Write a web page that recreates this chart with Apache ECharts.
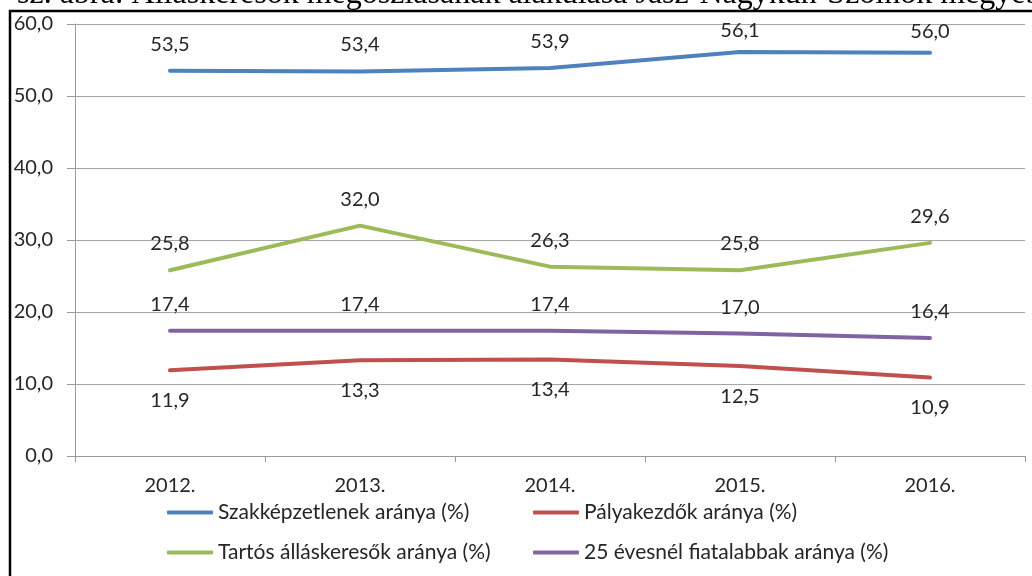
<!DOCTYPE html>
<html>
<head>
<meta charset="utf-8">
<style>
  html, body { margin: 0; padding: 0; background: #fff; }
  #chartLineContainer { width: 1032px; height: 576px; }
</style>
</head>
<body>
<div id="chartLineContainer"></div>
<script src="https://cdn.jsdelivr.net/npm/echarts@6/dist/echarts.min.js"></script>
<script>
// kategóriák (évek)
var years = ["2012.", "2013.", "2014.", "2015.", "2016."];
// sorozatok nevei
var seriesNames = [
  "Szakképzetlenek aránya (%)",
  "Pályakezdők aránya (%)",
  "Tartós álláskeresők aránya (%)",
  "25 évesnél fiatalabbak aránya (%)"
];
// értékek
var szakkepzetlen = [53.5, 53.4, 53.9, 56.1, 56.0];
var palyakezdo = [11.9, 13.3, 13.4, 12.5, 10.9];
var tartos = [25.8, 32.0, 26.3, 25.8, 29.6];
var fiatal = [17.4, 17.4, 17.4, 17.0, 16.4];
// y tengely
var yMin = 0;
var yMax = 60;
var yStep = 10;

var colors = ["#4F81BD", "#C0504D", "#9BBB59", "#8064A2"];
var font = "Lato";
var txt = "#262626";

// magyar tizedesvessző
function fmt(v) {
  return Number(v).toFixed(1).replace(".", ",");
}

function makeSeries(name, values, color, pos) {
  var data = values.map(function (v) {
    // a tetején lévő feliratokat Excel lejjebb tolja
    if (pos === "top" && v > 55) {
      return { value: v, label: { distance: 11 } };
    }
    return v;
  });
  return {
    name: name,
    type: "line",
    data: data,
    symbol: "circle",
    symbolSize: 1,
    lineStyle: { color: color, width: 4, cap: "round" },
    itemStyle: { color: color },
    emphasis: { disabled: true },
    label: {
      show: true,
      position: pos,
      distance: pos === "top" ? 16 : 20,
      color: txt,
      fontFamily: font,
      fontSize: 20,
      formatter: function (p) { return fmt(p.value); }
    },
    z: 3
  };
}

var chartLine = echarts.init(document.getElementById("chartLineContainer"));

function legendAt(idx, left, top) {
  return {
    data: [seriesNames[idx]],
    left: left,
    top: top,
    padding: 0,
    icon: "roundRect",
    itemWidth: 46,
    itemHeight: 4,
    textStyle: { color: txt, fontFamily: font, fontSize: 21 }
  };
}

var option = {
  animation: false,
  backgroundColor: "#fff",
  color: colors,
  grid: { left: 75, right: 7, top: 24, bottom: 120 },
  legend: [
    legendAt(0, 167, 502),
    legendAt(1, 533, 502),
    legendAt(2, 167, 542),
    legendAt(3, 533, 542)
  ],
  xAxis: {
    type: "category",
    data: years,
    boundaryGap: true,
    axisLine: { lineStyle: { color: "#9a9a9a", width: 1 } },
    axisTick: { show: true, length: 6, lineStyle: { color: "#9a9a9a" } },
    axisLabel: { color: txt, fontFamily: font, fontSize: 20, margin: 20 }
  },
  yAxis: {
    type: "value",
    min: yMin,
    max: yMax,
    interval: yStep,
    axisLine: { show: true, lineStyle: { color: "#9a9a9a" } },
    axisTick: { show: true, length: 8, lineStyle: { color: "#9a9a9a" } },
    splitLine: { lineStyle: { color: "#a6a6a6", width: 1 } },
    axisLabel: {
      color: txt,
      fontFamily: font,
      fontSize: 20,
      margin: 22,
      formatter: function (v) { return fmt(v); }
    }
  },
  series: [
    makeSeries(seriesNames[0], szakkepzetlen, colors[0], "top"),
    makeSeries(seriesNames[1], palyakezdo, colors[1], "bottom"),
    makeSeries(seriesNames[2], tartos, colors[2], "top"),
    makeSeries(seriesNames[3], fiatal, colors[3], "top")
  ],
  graphic: [
    // keret bal és felső széle
    {
      type: "polyline",
      shape: { points: [[10, 576], [10, 11], [1032, 11]] },
      style: { stroke: "#000", lineWidth: 2.5, fill: null },
      z: 10
    },
    // levágott ábracím
    {
      type: "text",
      left: 17,
      top: -21,
      style: {
        text: "sz. ábra: Álláskeresők megoszlásának alakulása Jász-Nagykun-Szolnok megyében",
        font: "32px 'Liberation Serif'",
        fill: "#000"
      },
      z: 10
    }
  ]
};

chartLine.setOption(option);
</script>
</body>
</html>
